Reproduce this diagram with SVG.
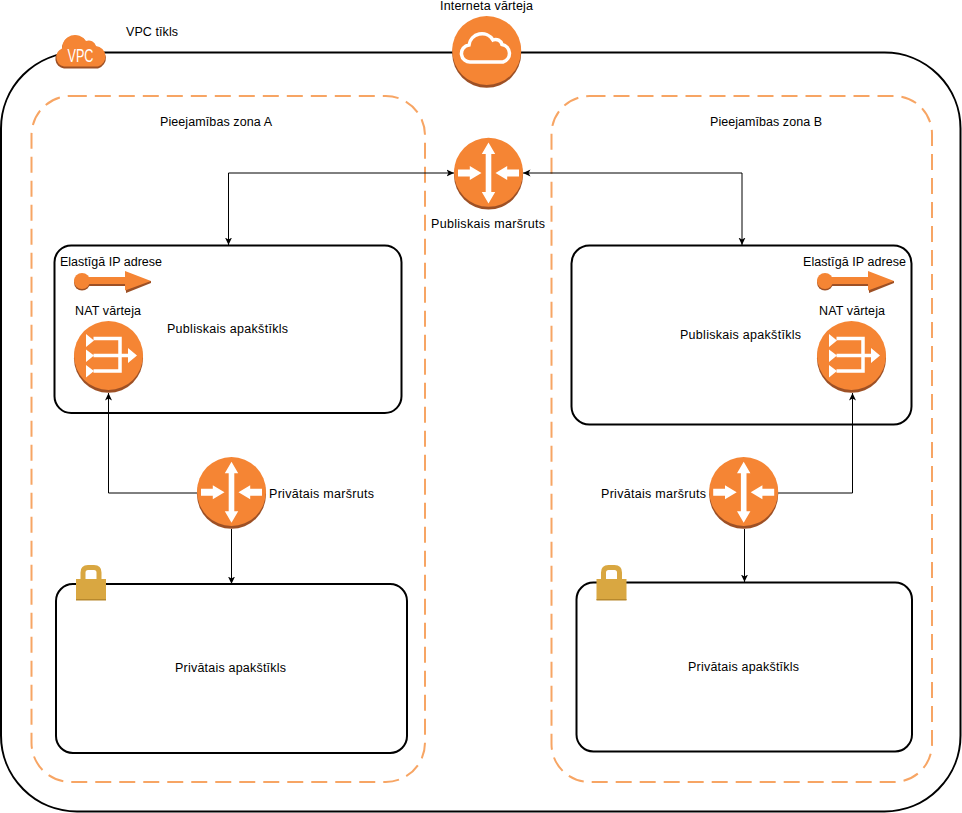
<svg xmlns="http://www.w3.org/2000/svg" width="962" height="813" viewBox="0 0 962 813">
<style>
text{font-family:"Liberation Sans",Arial,sans-serif;font-size:12.500px;fill:#000;text-anchor:middle}
.box{fill:#fff;stroke:#000;stroke-width:2}
.zone{fill:none;stroke:#F7A564;stroke-width:2;stroke-dasharray:16 8}
.conn{fill:none;stroke:#000;stroke-width:1}
.w{fill:#fff}
.wl{fill:none;stroke:#fff}
</style>
<defs>
<marker id="arrow" viewBox="0 0 8 8" refX="7.500" refY="4" markerWidth="8" markerHeight="8" orient="auto-start-reverse" markerUnits="userSpaceOnUse"><path d="M0 0.500L7.500 4L0 7.500L2 4Z" fill="#000"/></marker>
<g id="disc"><circle cx="0" cy="2.800" r="34.500" fill="#9D5025"/><circle cx="0" cy="0" r="34.500" fill="#F58534"/></g>
<g id="router"><use href="#disc"/><g transform="translate(0 0.700)"><path class="w" d="M0-30.500L6.700-19H2.800V19H6.700L0 30.500L-6.700 19H-2.800V-19H-6.700Z"/><path class="w" d="M-30.500-3.500H-18.700V-7L-7 0L-18.700 7V3.500H-30.500Z"/><path class="w" d="M30.500-3.500H18.700V-7L7 0L18.700 7V3.500H30.500Z"/></g></g>
<g id="nat"><use href="#disc"/><path class="w" d="M-22.500-21.500L-14.500-15L-22.500-8.500Z M-22.500-6L-14.500 0L-22.500 6.500Z M-22.500 9.500L-14.500 15.500L-22.500 22Z M19.500-7.500L28.500 0L19.500 7.500Z"/><path class="wl" stroke-width="3.500" d="M-15-17H11.500V15.500H-15M-15 0H20"/></g>
<g id="eip"><path d="M8 2H52V12L77 2V0H8Z M8-4H52V5H8Z" fill="#9D5025"/><circle cx="8" cy="1.500" r="8" fill="#9D5025"/><circle cx="8" cy="0" r="8" fill="#F58534"/><path fill="#F58534" d="M8-4H51V-10L77 0L51 9.500V3H8Z"/></g>
<g id="lock"><path d="M7 15V7.500Q7 2.500 12 2.500H18Q23 2.500 23 7.500V15" fill="none" stroke="#D9A741" stroke-width="5"/><rect x="0" y="14" width="30" height="21" fill="#D9A741"/><rect x="0" y="34" width="30" height="1.500" fill="#B7882D"/></g>
</defs>

<g id="vpc-frame"><rect class="box" x="1" y="52.500" width="959.500" height="759" rx="76" ry="76"/></g>
<g id="zone-a"><rect class="zone" x="31.500" y="96" width="393.500" height="686" rx="39.300" ry="39.300"/><text x="216" y="126" textLength="112">Pieejamības zona A</text></g>
<g id="zone-b"><rect class="zone" x="551.500" y="96" width="380.500" height="686" rx="38" ry="38"/><text x="766" y="126" textLength="112">Pieejamības zona B</text></g>
<g id="public-subnet-a"><rect class="box" x="54.500" y="245.500" width="347" height="167.500" rx="16.700" ry="16.700"/><text x="227.500" y="333" textLength="121">Publiskais apakštīkls</text></g>
<g id="public-subnet-b"><rect class="box" x="571.500" y="245.500" width="340" height="179" rx="17.900" ry="17.900"/><text x="740.500" y="339" textLength="121">Publiskais apakštīkls</text></g>
<g id="private-subnet-a"><rect class="box" x="56" y="584" width="351" height="169" rx="16.900" ry="16.900"/><text x="230.500" y="672" textLength="111">Privātais apakštīkls</text></g>
<g id="private-subnet-b"><rect class="box" x="576.500" y="582.500" width="335.500" height="169" rx="16.900" ry="16.900"/><text x="743.500" y="671" textLength="111">Privātais apakštīkls</text></g>

<g id="connectors">
<path class="conn" d="M454 173H228.500V245" marker-start="url(#arrow)" marker-end="url(#arrow)"/>
<path class="conn" d="M523 173H742V245" marker-start="url(#arrow)" marker-end="url(#arrow)"/>
<path class="conn" d="M197 493H108.500V393" marker-end="url(#arrow)"/>
<path class="conn" d="M778 493H852.500V393" marker-end="url(#arrow)"/>
<path class="conn" d="M231.500 529V584" marker-end="url(#arrow)"/>
<path class="conn" d="M744.500 529V582" marker-end="url(#arrow)"/>
</g>

<g id="vpc-icon"><path fill="#9D5025" d="M64 68.500A9.500 9.500 0 0 1 62 50A13 13 0 0 1 86 42A7.500 7.500 0 0 1 96 47A11 11 0 0 1 98 68.500Z"/><path fill="#F58534" d="M64 66.500A9.500 9.500 0 0 1 62 48.500A13 13 0 0 1 86 41A7.500 7.500 0 0 1 96 46A10.500 10.500 0 0 1 98 66.500Z"/><text x="80.500" y="62" textLength="26" lengthAdjust="spacingAndGlyphs" style="fill:#fff;font-size:18px">VPC</text><text x="152" y="36" textLength="52">VPC tīkls</text></g>

<g id="internet-gateway"><use href="#disc" x="486.700" y="50.500"/><path fill="none" stroke="#fff" stroke-width="3.500" d="M471 62A8.500 8.500 0 0 1 469 45A13 13 0 0 1 493 40A6.500 6.500 0 0 1 502 44.500A9 9 0 0 1 503 62Z"/><text x="486.500" y="10" textLength="93">Interneta vārteja</text></g>
<g id="public-route"><use href="#router" x="488.500" y="172.300"/><text x="488" y="228" textLength="114">Publiskais maršruts</text></g>
<g id="private-route-a"><use href="#router" x="231.500" y="491.500"/><text x="321.500" y="498" textLength="105">Privātais maršruts</text></g>
<g id="private-route-b"><use href="#router" x="743.700" y="491.500"/><text x="653.500" y="498" textLength="105">Privātais maršruts</text></g>
<g id="eip-a"><use href="#eip" x="74" y="281"/><text x="111" y="266" textLength="102">Elastīgā IP adrese</text></g>
<g id="eip-b"><use href="#eip" x="817" y="281"/><text x="854.500" y="266" textLength="103">Elastīgā IP adrese</text></g>
<g id="nat-a"><use href="#nat" x="108.500" y="355.500"/><text x="108" y="315" textLength="66">NAT vārteja</text></g>
<g id="nat-b"><use href="#nat" x="851.500" y="355.500"/><text x="852" y="315" textLength="66">NAT vārteja</text></g>
<g id="lock-a"><use href="#lock" x="76" y="565"/></g>
<g id="lock-b"><use href="#lock" x="596.500" y="565"/></g>
</svg>
